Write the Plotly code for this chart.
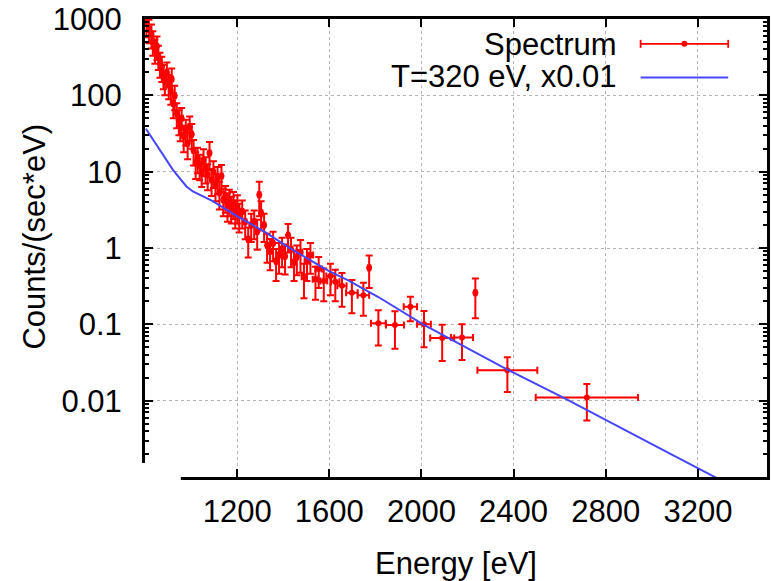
import plotly.graph_objects as go

# ---- data ----
energy = [806, 817, 828, 834, 843, 852, 858, 865, 873, 880, 886, 895, 903, 912, 916, 923, 929, 938,
          947, 953, 959, 968, 977, 985, 994, 1003, 1011, 1020, 1028, 1037, 1046, 1054, 1063, 1072,
          1080, 1089, 1097, 1106, 1115, 1123, 1132, 1140, 1149, 1158, 1166, 1175, 1184, 1192, 1201,
          1209, 1222, 1235, 1248, 1261, 1274, 1287, 1296, 1304, 1317, 1330, 1343, 1356, 1369, 1382,
          1395, 1408, 1421, 1434, 1447, 1459, 1475, 1490, 1503, 1518, 1540, 1554, 1576, 1605, 1626,
          1655, 1698, 1748, 1773, 1813, 1885, 1952, 2011, 2090, 2176, 2234, 2373, 2718]
counts = [875, 730, 630, 510, 400, 440, 330, 265, 235, 185, 155, 200, 137, 115, 164, 78, 99, 58,
          47, 39, 50, 29, 35, 23.5, 39, 31, 19, 13, 15, 12.2, 9.9, 14.2, 11.2, 9.1,
          17.5, 7.8, 9.9, 6.7, 8.3, 5.3, 8.8, 4.3, 4.7, 3.7, 4.2, 3.4, 3.9, 3.0, 3.5,
          2.7, 3.0, 2.2, 1.3, 2.0, 2.2, 1.65, 5.0, 2.9, 2.0, 1.09, 0.91, 1.15, 0.67, 0.81,
          0.96, 0.78, 1.47, 0.96, 0.65, 0.76, 0.875, 0.42, 0.67, 0.81, 0.39, 0.53, 0.37, 0.43, 0.36,
          0.32, 0.26, 0.24, 0.55, 0.103, 0.098, 0.17, 0.10, 0.066, 0.067, 0.26, 0.025, 0.011]
counts_err = [300, 250, 220, 180, 140, 150, 115, 95, 85, 65, 55, 70, 48, 40, 60, 28, 35, 21,
              17, 14, 18, 11, 13, 9, 14, 11, 7, 5, 5.5, 4.5, 3.6, 5.5, 4.2, 3.4,
              7, 3, 3.8, 2.6, 3.2, 2.1, 3.4, 1.7, 1.8, 1.5, 1.6, 1.3, 1.5, 1.2, 1.4,
              1.1, 1.2, 0.9, 0.55, 0.8, 0.9, 0.7, 2.4, 1.2, 0.8, 0.45, 0.4, 0.48, 0.3, 0.35,
              0.4, 0.33, 0.6, 0.4, 0.28, 0.32, 0.4, 0.2, 0.3, 0.35, 0.18, 0.23, 0.17, 0.19, 0.16,
              0.15, 0.12, 0.11, 0.25, 0.05, 0.05, 0.06, 0.05, 0.033, 0.033, 0.14, 0.012, 0.0055]
energy_err = [5, 5, 5, 5, 5, 5, 5, 5, 5, 5, 5, 5, 5, 5, 5, 5, 5, 5,
              5, 5, 5, 5, 5, 5, 5, 5, 5, 5, 5, 5, 5, 5, 5, 5,
              5, 5, 5, 5, 5, 5, 5, 5, 5, 5, 5, 5, 5, 5, 5,
              5, 5, 5, 5, 5, 5, 5, 5, 5, 5, 5, 5, 5, 5, 5,
              5, 5, 5, 5, 5, 5, 8, 10, 10, 12, 12, 14, 15, 18, 18,
              20, 25, 25, 5, 32, 39, 29, 30, 52, 48, 5, 130, 222]

model_energy = [804, 865, 922, 980, 1008, 1094, 1201, 1325, 1425, 1597, 1684, 1813, 2007, 2373,
                2618, 3027, 3264, 3400]
model_counts = [36.5, 19.1, 10.5, 6.4, 5.5, 4.1, 2.6, 1.59, 1.01, 0.50, 0.374, 0.228, 0.0998, 0.0255,
                0.0109, 0.00245, 0.00103, 0.00063]

x_ticks = [800, 1200, 1600, 2000, 2400, 2800, 3200]
y_ticks = [0.001, 0.01, 0.1, 1, 10, 100, 1000]
y_tick_text = ["0.001", "0.01", "0.1", "1", "10", "100", "1000"]
legend_labels = ["Spectrum", "T=320 eV, x0.01"]

RED = "rgb(255,0,0)"
BLUE = "rgb(70,70,255)"
FONT = "Liberation Sans, Arial, Helvetica, sans-serif"
FS = 31

fig = go.Figure()
fig.add_trace(go.Scatter(
    x=energy, y=counts, mode="markers", name=legend_labels[0],
    marker=dict(color=RED, size=6),
    error_y=dict(type="data", array=counts_err, color=RED, thickness=2, width=3.5),
    error_x=dict(type="data", array=energy_err, color=RED, thickness=2, width=3.5),
    showlegend=False,
))
fig.add_trace(go.Scatter(
    x=model_energy, y=model_counts, mode="lines", name=legend_labels[1],
    line=dict(color=BLUE, width=2), showlegend=False,
))

minor_vals = [m * 10 ** k for k in range(-3, 3) for m in range(2, 10)]

fig.update_layout(
    width=772, height=581, autosize=False,
    margin=dict(l=145, r=2, t=18, b=102),
    paper_bgcolor="white", plot_bgcolor="white",
    font=dict(family=FONT, size=FS, color="black"),
    xaxis=dict(
        range=[800, 3500], tickvals=x_ticks, ticktext=[str(v) for v in x_ticks],
        ticks="inside", ticklen=8, tickwidth=2, tickcolor="black",
        showline=True, linewidth=3, linecolor="black", mirror="ticks",
        showgrid=True, gridcolor="#b4b4b4", griddash="dot", gridwidth=1.2,
        zeroline=False, tickfont=dict(size=FS, family=FONT, color="black"),
        ticklabelstandoff=5,
        title=dict(text="Energy [eV]", font=dict(size=FS, family=FONT, color="black"), standoff=28),
    ),
    yaxis=dict(
        type="log", range=[-3, 3], tickvals=y_ticks, ticktext=y_tick_text,
        ticks="inside", ticklen=8, tickwidth=2, tickcolor="black",
        showline=True, linewidth=3, linecolor="black", mirror="ticks",
        showgrid=True, gridcolor="#b4b4b4", griddash="dot", gridwidth=1.2,
        zeroline=False, tickfont=dict(size=FS, family=FONT, color="black"),
        ticklabelstandoff=14,
        minor=dict(tickvals=minor_vals, ticks="inside", ticklen=4, tickwidth=1.5,
                   tickcolor="black", showgrid=False),
    ),
)

# y-axis title
fig.add_annotation(text="Counts/(sec*eV)", xref="paper", yref="paper", x=0, y=0.525,
                   xshift=-110, textangle=-90, showarrow=False,
                   font=dict(size=FS, family=FONT, color="black"),
                   xanchor="center", yanchor="middle")

# manual legend (text left of sample, gnuplot style)
W, H = 625.0, 461.0
def px_x(p):
    return (p - 145) / W
def px_y(p):
    return (479 - p) / H

for label, ypx in zip(legend_labels, [44, 76]):
    fig.add_annotation(text=label, xref="paper", yref="paper", x=px_x(621), y=px_y(ypx),
                       xanchor="right", yanchor="middle", showarrow=False,
                       font=dict(size=FS, family=FONT, color="black"))

# Spectrum sample: line with end caps and a dot
y1 = px_y(43)
fig.add_shape(type="line", xref="paper", yref="paper", x0=px_x(643), x1=px_x(731), y0=y1, y1=y1,
              line=dict(color=RED, width=1.8), layer="above")
for xc in [643, 731]:
    fig.add_shape(type="line", xref="paper", yref="paper", x0=px_x(xc), x1=px_x(xc),
                  y0=px_y(39), y1=px_y(47), line=dict(color=RED, width=1.8), layer="above")
fig.add_shape(type="circle", xref="paper", yref="paper", x0=px_x(684), x1=px_x(690),
              y0=px_y(40), y1=px_y(46), fillcolor=RED, line=dict(color=RED, width=0), layer="above")
# Model sample
y2 = px_y(77)
fig.add_shape(type="line", xref="paper", yref="paper", x0=px_x(643), x1=px_x(731), y0=y2, y1=y2,
              line=dict(color=BLUE, width=2), layer="above")

# white patch at bottom-left as in the reference crop
fig.add_shape(type="rect", xref="paper", yref="paper", x0=px_x(0), x1=px_x(181),
              y0=px_y(581), y1=px_y(465), fillcolor="white", line=dict(width=0), layer="above")

fig.write_html("out.html")
